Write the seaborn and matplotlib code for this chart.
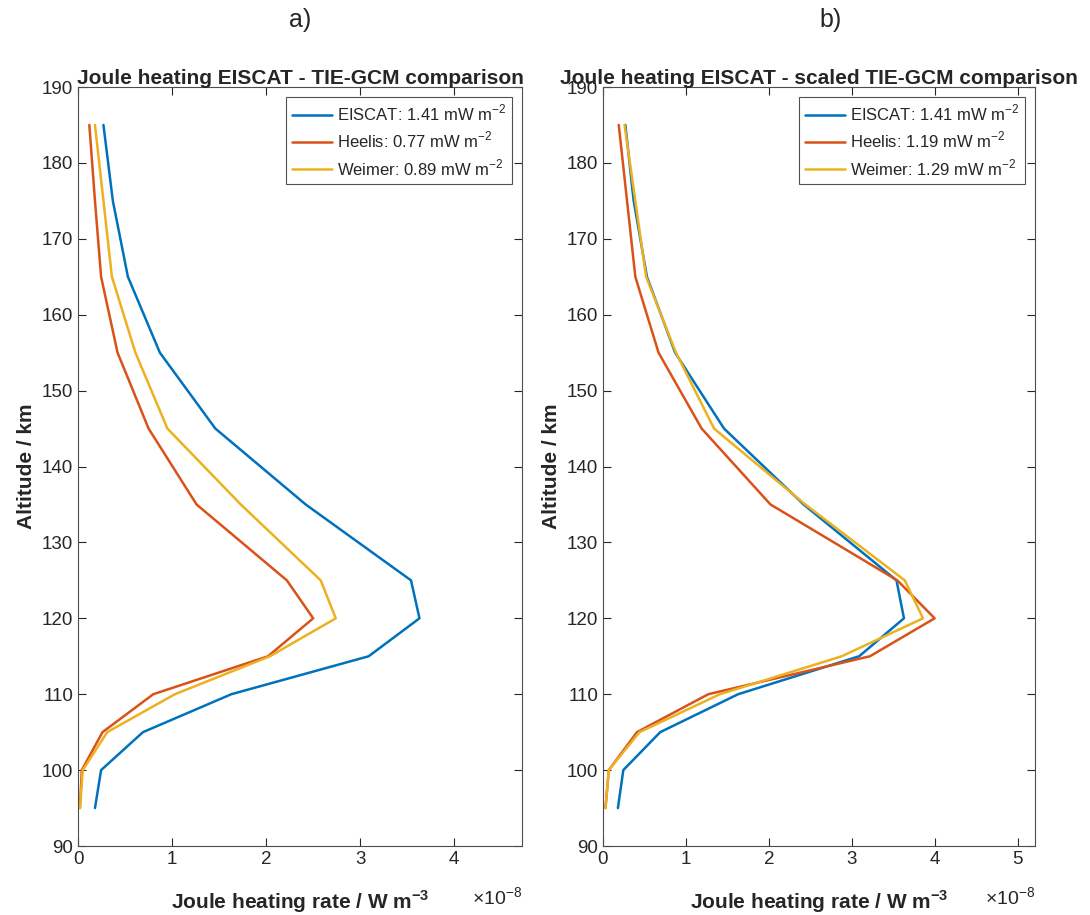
import numpy as np
import seaborn as sns
import matplotlib.pyplot as plt

# altitude grid (km)
altitude = [95, 100, 105, 110, 115, 120, 125, 135, 145, 155, 165, 175, 185]

# Joule heating rate, units of 1e-8 W m^-3
eiscat = [0.18, 0.245, 0.69, 1.63, 3.09, 3.63, 3.54, 2.42, 1.46, 0.87, 0.53, 0.37, 0.27]
heelis = [0.02, 0.04, 0.26, 0.80, 2.02, 2.50, 2.22, 1.26, 0.75, 0.42, 0.245, 0.18, 0.12]
weimer = [0.02, 0.05, 0.31, 1.03, 2.04, 2.74, 2.58, 1.73, 0.95, 0.61, 0.36, 0.27, 0.18]

# scaled TIE-GCM values (panel b)
heelis_scaled = [0.03, 0.07, 0.41, 1.27, 3.22, 4.00, 3.55, 2.02, 1.19, 0.67, 0.39, 0.29, 0.19]
weimer_scaled = [0.03, 0.07, 0.44, 1.41, 2.88, 3.86, 3.64, 2.44, 1.34, 0.88, 0.52, 0.39, 0.26]

labels_a = ['EISCAT: 1.41 mW m$^{-2}$', 'Heelis: 0.77 mW m$^{-2}$', 'Weimer: 0.89 mW m$^{-2}$']
labels_b = ['EISCAT: 1.41 mW m$^{-2}$', 'Heelis: 1.19 mW m$^{-2}$', 'Weimer: 1.29 mW m$^{-2}$']
colors = ['#0072BD', '#D95319', '#EDB120']

sns.set_style('ticks')
plt.rcParams['font.family'] = ['Liberation Sans', 'DejaVu Sans']
plt.rcParams['mathtext.fontset'] = 'custom'
plt.rcParams['mathtext.rm'] = 'Liberation Sans'
plt.rcParams['mathtext.bf'] = 'Liberation Sans:bold'

fig = plt.figure(figsize=(10.9, 9.15), dpi=100)
ax1 = fig.add_axes([0.0716, 0.0754, 0.4073, 0.8295])
ax2 = fig.add_axes([0.5532, 0.0754, 0.3963, 0.8295])


def draw(ax, series, labels, title, xmax, xticks):
    for vals, lab, c in zip(series, labels, colors):
        sns.lineplot(x=vals, y=altitude, sort=False, estimator=None, color=c,
                     linewidth=1.8, label=lab, ax=ax)
    ax.set_xlim(0, xmax)
    ax.set_ylim(90, 190)
    ax.set_xticks(xticks)
    ax.set_yticks(range(90, 191, 10))
    ax.tick_params(direction='in', length=6, top=True, right=True,
                   labelsize=13.5, colors='#262626', width=0.8)
    for s in ax.spines.values():
        s.set_visible(True)
        s.set_color('#4d4d4d')
        s.set_linewidth(0.8)
    ax.set_title(title, fontsize=15, fontweight='bold', pad=2)
    ax.set_xlabel('Joule heating rate / W m$^{\\mathbf{-3}}$', fontsize=15,
                  fontweight='bold', color='#262626', labelpad=15)
    ax.set_ylabel('Altitude / km', fontsize=15, fontweight='bold', color='#262626')
    ax.text(1.0, -0.068, r'$\times10^{-8}$', transform=ax.transAxes, ha='right',
            va='center', fontsize=14, color='#262626')
    leg = ax.legend(loc='upper right', fontsize=12, handlelength=2.4,
                    frameon=True, fancybox=False, borderaxespad=0.6,
                    labelspacing=0.4, handletextpad=0.3, borderpad=0.35)
    leg.get_frame().set_edgecolor('#262626')
    leg.get_frame().set_linewidth(0.8)


draw(ax1, [eiscat, heelis, weimer], labels_a,
     'Joule heating EISCAT - TIE-GCM comparison', 4.72, [0, 1, 2, 3, 4])
draw(ax2, [eiscat, heelis_scaled, weimer_scaled], labels_b,
     'Joule heating EISCAT - scaled TIE-GCM comparison', 5.21, [0, 1, 2, 3, 4, 5])

fig.text(0.275, 0.978, 'a)', ha='center', va='center', fontsize=18)
fig.text(0.762, 0.978, 'b)', ha='center', va='center', fontsize=18)

fig.savefig('out.png', dpi=100)
